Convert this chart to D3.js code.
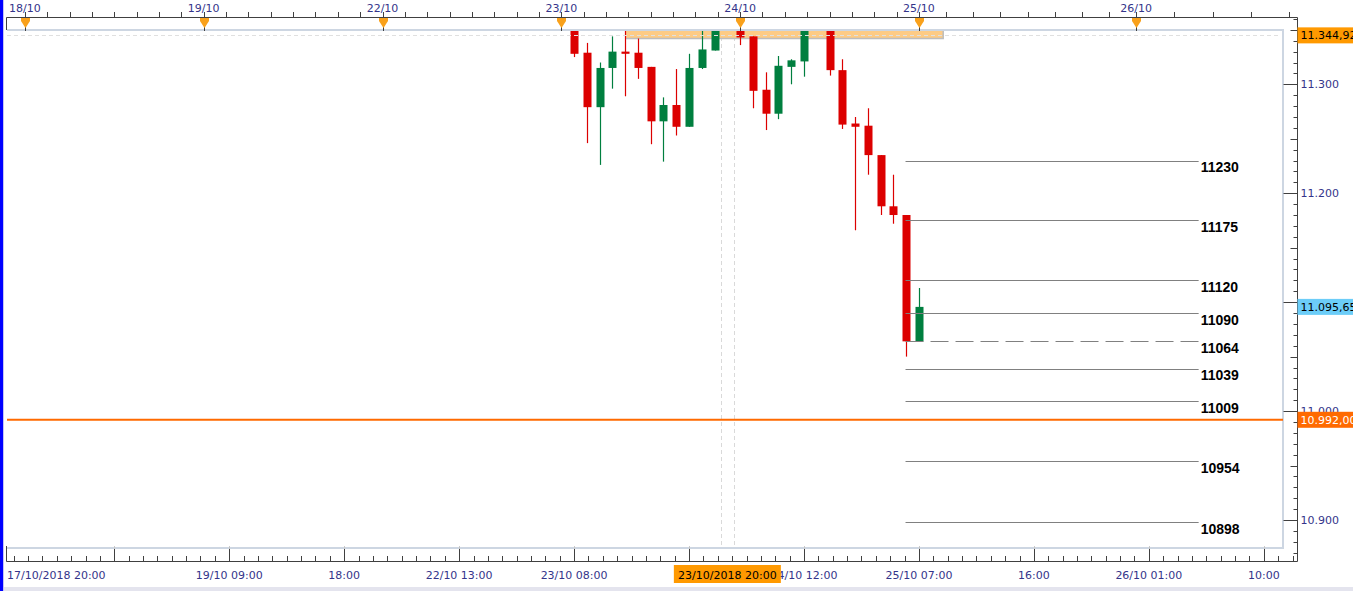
<!DOCTYPE html>
<html><head><meta charset="utf-8">
<script src="https://cdn.jsdelivr.net/npm/d3@7"></script>
<style>html,body{margin:0;padding:0;background:#fff;overflow:hidden}</style>
</head><body>
<svg id="c" width="1353" height="591"></svg>
<script>
// ---------- data ----------
const barIdx = [0,1,2,3,4,5,6,7,8,9,10,11,13,14,15,16,17,18,20,21,22,23,24,25,26,27];
const opens  = [11352,11329,11279,11315,11330,11329,11316,11266,11281,11261,11315,11331,11350,11344,11295,11273,11316,11321,11353,11313,11264,11262,11235,11188,11180,11064];
const highs  = [11356,11338,11320,11344,11352,11342,11316,11288,11314,11328,11352,11358,11353,11344,11311,11326,11323,11356,11356,11323,11270,11278,11235,11217,11180,11113];
const lows   = [11325,11246,11226,11296,11289,11305,11245,11229,11253,11261,11314,11331,11336,11278,11258,11268,11300,11307,11308,11259,11166,11217,11180,11172,11050,11064];
const closes = [11328,11279,11315,11330,11328,11315,11266,11281,11261,11315,11332,11354,11343,11294,11273,11317,11322,11352,11313,11263,11261,11235,11188,11180,11064,11095.65];

const levelValues = [11230,11175,11120,11090,11064,11039,11009,10954,10898];
const levelDashed = [false,false,false,false,true,false,false,false,false];
const supportValue = 10992;
const lastPrice = 11095.65;
const refPrice = 11344.92;
const zoneBars = [4, 28.9];
const zoneValues = [11342.5, 11352];

const yTickValues = [10900,11000,11200,11300];   // 11.100 is covered by the last-price tag
const dayLabels = ["18/10","19/10","22/10","23/10","24/10","25/10","26/10"];
const dayBars = [-43,-29,-15,-1,13,27,44];
const timeTickBars = [-36,-27,-18,-9,0,9,18,27,36,45,54];
const timeTickLabels = ["","19/10 09:00","18:00","22/10 13:00","23/10 08:00","17:00","24/10 12:00","25/10 07:00","16:00","26/10 01:00","10:00"];
const startLabel = "17/10/2018 20:00";
const crossBar = 12;
const crossLabel = "23/10/2018 20:00";

// ---------- layout ----------
const W = 1353, H = 591;
const PL = 7, PR = 1283, PT = 30, PB = 548;
const AX = 1297.5;
const AXB = 561.5;
const AXT = 17.5;
const axisColor = "#404040";
const labelColor = "#34348a";
const font = "DejaVu Sans, Verdana, sans-serif";
const RED = "#dc0000", GREEN = "#007f3f";

const x = d3.scaleLinear().domain([-44.4, 56.6]).range([7, 1297]);
const y = d3.scaleLinear().domain([10900, 11300]).range([520, 84.3]);
const deLocale = d3.formatLocale({decimal: ",", thousands: ".", grouping: [3], currency: ["", ""]});
const fmtInt = deLocale.format(",.0f");
const fmt2 = deLocale.format(",.2f");

const svg = d3.select("#c");
svg.append("rect").attr("width", W).attr("height", H).attr("fill", "#fff");

svg.append("rect").attr("x", 0).attr("y", 0).attr("width", 3).attr("height", H).attr("fill", "#0000ff");
svg.append("rect").attr("x", 3).attr("y", 0).attr("width", 1).attr("height", H).attr("fill", "#c4c4f4");
svg.append("rect").attr("x", 4).attr("y", 587).attr("width", W - 4).attr("height", 4).attr("fill", "#e4e4ee");

svg.append("defs").append("clipPath").attr("id", "plot")
  .append("rect").attr("x", PL).attr("y", PT + 1).attr("width", PR - PL).attr("height", PB - PT - 1);

svg.append("path")
  .attr("d", `M${PL},${PT} H${PR} V${PB} H${PL}`)
  .attr("fill", "none").attr("stroke", "#cdd6e2").attr("stroke-width", 2);

const plot = svg.append("g").attr("clip-path", "url(#plot)");

plot.selectAll("line.cross").data([crossBar - 0.5, crossBar + 0.5]).join("line")
  .attr("x1", d => Math.round(x(d)) + 0.5).attr("x2", d => Math.round(x(d)) + 0.5)
  .attr("y1", PT).attr("y2", PB)
  .attr("stroke", "#d9d9d9").attr("stroke-dasharray", "4,3");

plot.append("rect")
  .attr("x", x(zoneBars[0])).attr("width", x(zoneBars[1]) - x(zoneBars[0]))
  .attr("y", y(zoneValues[1])).attr("height", y(zoneValues[0]) - y(zoneValues[1]))
  .attr("fill", "#fdcb85");
plot.append("path")
  .attr("d", `M${x(zoneBars[0])},${y(zoneValues[0]) + 0.5} H${x(zoneBars[1])} V${y(zoneValues[1])}`)
  .attr("fill", "none").attr("stroke", "#bdbdbd").attr("stroke-width", 1.5);

const candles = barIdx.map((b, i) => ({b, o: opens[i], h: highs[i], l: lows[i], c: closes[i]}));
const cg = plot.append("g");
cg.selectAll("line.wick").data(candles).join("line")
  .attr("x1", d => Math.round(x(d.b)) + 0.5).attr("x2", d => Math.round(x(d.b)) + 0.5)
  .attr("y1", d => y(d.h)).attr("y2", d => y(d.l))
  .attr("stroke", d => d.c >= d.o ? GREEN : RED).attr("stroke-width", 1.2);
cg.selectAll("rect.body").data(candles).join("rect")
  .attr("x", d => Math.round(x(d.b)) - 3.5).attr("width", 8)
  .attr("y", d => y(Math.max(d.o, d.c)))
  .attr("height", d => Math.max(1.5, Math.abs(y(d.o) - y(d.c))))
  .attr("fill", d => d.c >= d.o ? GREEN : RED);

plot.append("line")
  .attr("x1", PL).attr("x2", PR - 3).attr("y1", Math.round(y(refPrice)) + 0.5).attr("y2", Math.round(y(refPrice)) + 0.5)
  .attr("stroke", "#e0e0e0").attr("stroke-dasharray", "4,3");

plot.append("line")
  .attr("x1", PL).attr("x2", PR).attr("y1", y(supportValue)).attr("y2", y(supportValue))
  .attr("stroke", "#ff6a00").attr("stroke-width", 2);

const levels = levelValues.map((v, i) => ({v, dashed: levelDashed[i]}));
const lx1 = x(25.95), lx2 = x(48.9);
svg.selectAll("line.level").data(levels).join("line")
  .attr("x1", lx1).attr("x2", lx2)
  .attr("y1", d => Math.round(y(d.v)) + 0.5).attr("y2", d => Math.round(y(d.v)) + 0.5)
  .attr("stroke", "#808080").attr("stroke-width", 1)
  .attr("stroke-dasharray", d => d.dashed ? "18,7" : null);
svg.selectAll("text.level").data(levels).join("text")
  .attr("x", lx2 + 2).attr("y", d => y(d.v) + 11.6)
  .attr("font-family", "Liberation Sans, Arial, sans-serif").attr("font-weight", "bold")
  .attr("font-size", 14).attr("fill", "#000")
  .text(d => d.v);

// ---------- right axis ----------
const ra = svg.append("g");
ra.append("line").attr("x1", AX).attr("x2", AX).attr("y1", AXT).attr("y2", AXB)
  .attr("stroke", axisColor);
const minorVals = d3.range(10870, 11361, 10);
ra.selectAll("line.t").data(minorVals).join("line")
  .attr("x1", d => AX - (d % 100 === 0 ? 14 : d % 50 === 0 ? 7 : 4)).attr("x2", AX)
  .attr("y1", d => Math.round(y(d)) + 0.5).attr("y2", d => Math.round(y(d)) + 0.5)
  .attr("stroke", axisColor);
ra.selectAll("text.t").data(yTickValues).join("text")
  .attr("x", AX + 3).attr("y", d => y(d)).attr("dy", "0.36em")
  .attr("font-family", font).attr("font-size", 11).attr("fill", labelColor)
  .text(d => fmtInt(d));

const priceTags = [
  {v: refPrice, fill: "#ff9900", color: "#000"},
  {v: lastPrice, fill: "#6ccdf8", color: "#000"},
  {v: supportValue, fill: "#ff6a00", color: "#fff"}
];
const pt = svg.selectAll("g.tag").data(priceTags).join("g");
pt.append("rect").attr("x", AX).attr("y", d => y(d.v) - 8).attr("width", 60).attr("height", 16)
  .attr("fill", d => d.fill);
pt.append("text").attr("x", AX + 3).attr("y", d => y(d.v)).attr("dy", "0.36em")
  .attr("font-family", font).attr("font-size", 11).attr("fill", d => d.color)
  .text(d => fmt2(d.v));

// ---------- bottom axis ----------
const ba = svg.append("g");
ba.append("line").attr("x1", 6.5).attr("x2", AX).attr("y1", AXB).attr("y2", AXB).attr("stroke", axisColor);
ba.append("line").attr("x1", 6.5).attr("x2", 6.5).attr("y1", 546).attr("y2", AXB).attr("stroke", axisColor);
const minorBars = [];
for (let b = timeTickBars[0] - 7 * 1.125; b < 56.6; b += 1.125) minorBars.push(b);
ba.selectAll("line.m").data(minorBars).join("line")
  .attr("x1", d => Math.round(x(d)) + 0.5).attr("x2", d => Math.round(x(d)) + 0.5)
  .attr("y1", 556).attr("y2", AXB).attr("stroke", axisColor);
ba.selectAll("line.M").data(timeTickBars).join("line")
  .attr("x1", d => Math.round(x(d)) + 0.5).attr("x2", d => Math.round(x(d)) + 0.5)
  .attr("y1", 549).attr("y2", AXB).attr("stroke", axisColor);
ba.selectAll("line.g").data(timeTickBars).join("line")
  .attr("x1", d => Math.round(x(d)) + 0.5).attr("x2", d => Math.round(x(d)) + 0.5)
  .attr("y1", 546).attr("y2", 549).attr("stroke", "#c8c8c8");
ba.selectAll("text.M").data(timeTickBars.map((b, i) => ({b, t: timeTickLabels[i]})).filter(d => d.t)).join("text")
  .attr("x", d => x(d.b)).attr("y", 579).attr("text-anchor", "middle")
  .attr("font-family", font).attr("font-size", 11).attr("fill", labelColor)
  .text(d => d.t);
ba.append("text").attr("x", 7).attr("y", 579)
  .attr("font-family", font).attr("font-size", 11).attr("fill", labelColor).text(startLabel);
const cx = x(crossBar);
ba.append("rect").attr("x", cx - 53.5).attr("y", 565).attr("width", 107).attr("height", 18).attr("fill", "#ff9900");
ba.append("text").attr("x", cx).attr("y", 579).attr("text-anchor", "middle")
  .attr("font-family", font).attr("font-size", 11).attr("fill", "#000").text(crossLabel);

// ---------- top axis ----------
const ta = svg.append("g");
ta.append("line").attr("x1", 6.5).attr("x2", AX).attr("y1", AXT).attr("y2", AXT).attr("stroke", axisColor);
ta.append("line").attr("x1", 6.5).attr("x2", 6.5).attr("y1", AXT).attr("y2", PT).attr("stroke", axisColor);
const topMinor = [];
for (let i = 0; i < dayBars.length - 1; i++) {
  const step = (dayBars[i + 1] - dayBars[i]) / 8;
  for (let k = 1; k < 8; k++) topMinor.push(dayBars[i] + k * step);
}
for (let b = dayBars[dayBars.length - 1] + 3; b < 57; b += 3) topMinor.push(b);
ta.selectAll("line.m").data(topMinor).join("line")
  .attr("x1", d => Math.round(x(d)) + 0.5).attr("x2", d => Math.round(x(d)) + 0.5)
  .attr("y1", 12).attr("y2", AXT).attr("stroke", axisColor);
ta.selectAll("line.d").data(dayBars).join("line")
  .attr("x1", d => Math.round(x(d)) + 0.5).attr("x2", d => Math.round(x(d)) + 0.5)
  .attr("y1", 12).attr("y2", 31).attr("stroke", axisColor);
ta.selectAll("path.mk").data(dayBars).join("path")
  .attr("d", d => { const cx = Math.round(x(d)) + 0.5; return `M${cx-4.5},18 H${cx+4.5} V21 L${cx},28 L${cx-4.5},21 Z`; })
  .attr("fill", "#f9a11b");
ta.selectAll("text.d").data(dayBars.map((b, i) => ({b, t: dayLabels[i]}))).join("text")
  .attr("x", d => x(d.b)).attr("y", 12).attr("text-anchor", "middle")
  .attr("font-family", font).attr("font-size", 11).attr("fill", labelColor)
  .text(d => d.t);
</script>
</body></html>
